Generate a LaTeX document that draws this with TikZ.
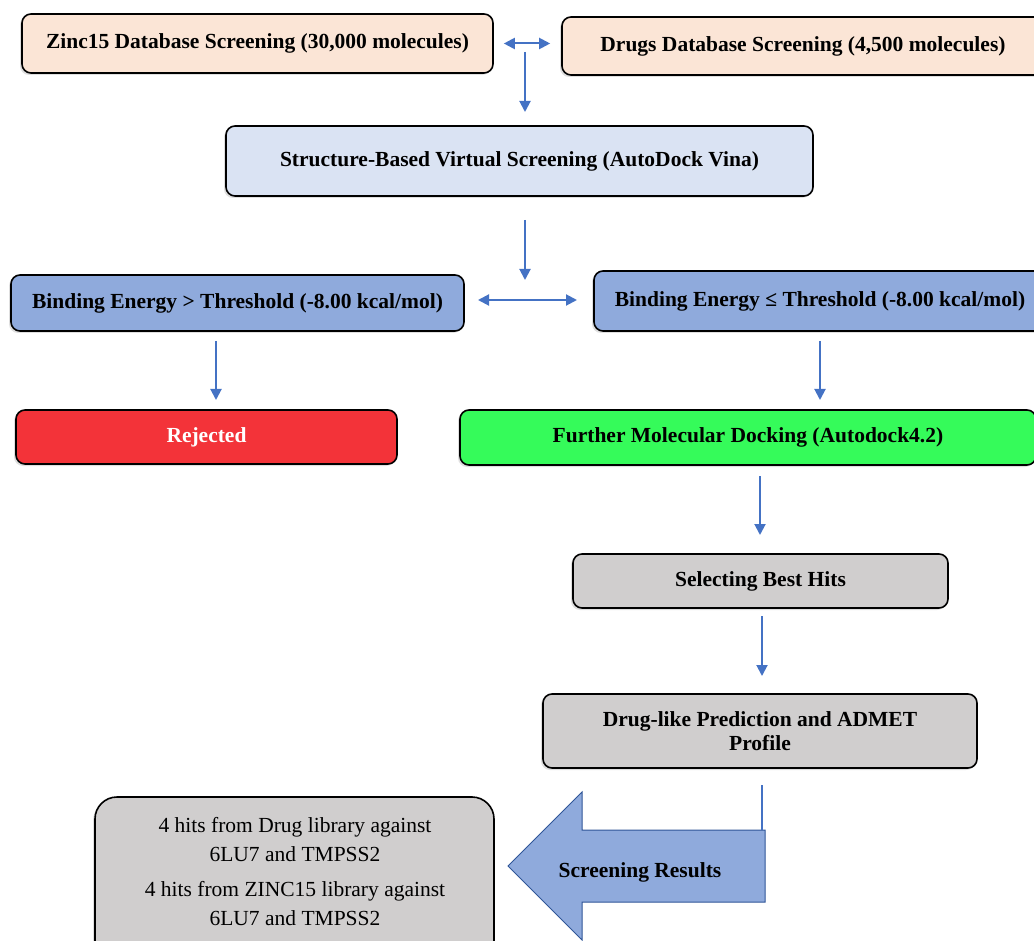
\documentclass[tikz,border=0pt]{standalone}
\usepackage{fontspec}
\setmainfont{Liberation Serif}
\usetikzlibrary{arrows.meta,shadows,positioning}
\definecolor{peach}{HTML}{FBE5D6}
\definecolor{lblue}{HTML}{DAE3F3}
\definecolor{mblue}{HTML}{8FAADC}
\definecolor{rred}{HTML}{F33339}
\definecolor{ggreen}{HTML}{35FB5A}
\definecolor{ggrey}{HTML}{D0CECE}
\definecolor{arrblue}{HTML}{4472C4}
\definecolor{edgeblue}{HTML}{2F5597}
\tikzset{
  box/.style={draw=black, line width=1.6pt, rounded corners=9pt, inner sep=0pt,
    font=\fontsize{21.5}{25}\selectfont\bfseries, align=center,
    drop shadow={shadow xshift=-2pt, shadow yshift=-2pt, opacity=0.25, fill=gray}},
  conn/.style={draw=arrblue, line width=2pt, -{Triangle[width=11pt,length=11pt]}},
  dconn/.style={draw=arrblue, line width=2pt, {Triangle[width=11pt,length=11pt]}-{Triangle[width=11pt,length=11pt]}},
}
\begin{document}
\begin{tikzpicture}[x=1pt,y=-1pt]
\useasboundingbox (0,0) rectangle (1034,941);
\clip (0,0) rectangle (1034,941);
\node[box, fill=peach, minimum width=471pt, minimum height=59pt] (zinc) at (257.5,43.5) {Zinc15 Database Screening (30,000 molecules)};
\node[box, fill=peach, minimum width=482pt, minimum height=58pt] (drugs) at (803,46) {Drugs Database Screening (4,500 molecules)};
\node[box, fill=lblue, minimum width=587pt, minimum height=70pt] (sbvs) at (519.5,161) {Structure-Based Virtual Screening (AutoDock Vina)};
\node[box, fill=mblue, minimum width=453pt, minimum height=56pt] (bgt) at (237.5,303) {Binding Energy > Threshold (-8.00 kcal/mol)};
\node[box, fill=mblue, minimum width=452pt, minimum height=60pt] (ble) at (820,301) {Binding Energy ≤ Threshold (-8.00 kcal/mol)};
\node[box, fill=rred, text=white, minimum width=381pt, minimum height=54pt] (rej) at (206.5,437) {Rejected};
\node[box, fill=ggreen, minimum width=576pt, minimum height=55pt] (fmd) at (748,437.5) {Further Molecular Docking (Autodock4.2)};
\node[box, fill=ggrey, minimum width=375pt, minimum height=54pt] (sel) at (760.5,581) {Selecting Best Hits};
\node[box, fill=ggrey, minimum width=434pt, minimum height=74pt] (adm) at (760,731) {Drug-like Prediction and ADMET\\[-1pt]Profile};
\node[box, fill=ggrey, minimum width=399pt, minimum height=170pt, rounded corners=22pt] (res) at (294.5,882) {};
\node[font=\fontsize{21.5}{29}\selectfont, align=center] (restxt) at (295,872) {4 hits from Drug library against\\6LU7 and TMPSS2\\[6pt]4 hits from ZINC15 library against\\6LU7 and TMPSS2};
% block arrow
\draw[fill=mblue, draw=edgeblue, line width=1pt] (765,830) -- (582,830) -- (582,792) -- (508,866) -- (582,940) -- (582,902) -- (765,902) -- cycle;
\node[font=\fontsize{21.5}{25}\selectfont\bfseries] (scr) at (640,872) {Screening Results};
\coordinate (atop) at (762,830);
% connectors
\draw[dconn] ([xshift=10pt]zinc.east) -- ([xshift=-11pt]drugs.west |- zinc.east);
\coordinate (j1) at (525,52);
\draw[conn] (j1) -- (525,112);
\draw[conn] (525,220) -- (525,280);
\draw[dconn] (478,300) -- (577,300);
\draw[conn] (216,341) -- (216,400);
\draw[conn] (820,341) -- (820,400);
\draw[conn] (760,476) -- (760,535);
\draw[conn] (762,616) -- (762,676);
\draw[draw=arrblue, line width=2pt] (762,785) -- (atop);
\end{tikzpicture}
\end{document}
